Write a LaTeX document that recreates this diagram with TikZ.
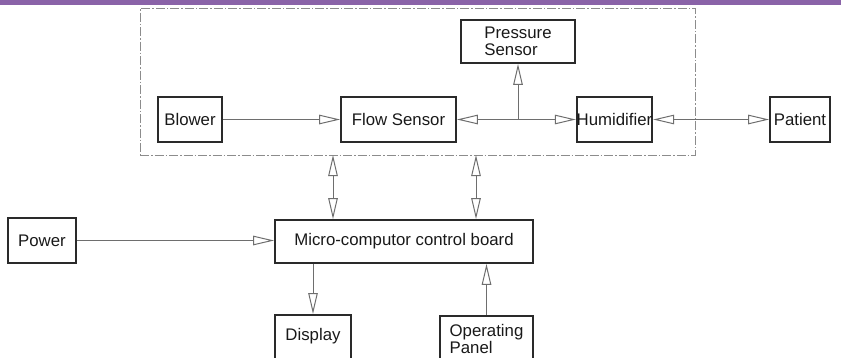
\documentclass[tikz,border=0pt]{standalone}
\usepackage{fontspec}
\setmainfont{Liberation Sans}
\usetikzlibrary{arrows.meta,positioning}
\definecolor{barpurple}{HTML}{8A63A8}
\definecolor{edgegray}{HTML}{2A2A2A}
\definecolor{wiregray}{HTML}{6E6E6E}
\definecolor{framegray}{HTML}{8C8C8C}

\begin{document}
\begin{tikzpicture}[x=1pt,y=-1pt,
  bx/.style={draw=edgegray,line width=1.7pt,inner sep=0pt,text=black!90,
    font=\fontsize{16.8}{17}\selectfont},
  ar/.style={draw=wiregray,line width=1pt,-{Triangle[open,length=21pt,width=9.5pt]}},
  ar2/.style={draw=wiregray,line width=1pt,
    {Triangle[open,length=21pt,width=9.5pt]}-{Triangle[open,length=21pt,width=9.5pt]}},
  frm/.style={draw=framegray,line width=1pt,dash pattern=on 9pt off 2pt on 1.5pt off 2pt}
]
\useasboundingbox (0,0) rectangle (841,357);
\fill[barpurple] (0,0) rectangle (841,4.5);

% breathing circuit
\node[frm,minimum width=555pt,minimum height=147pt] (sys) at (417.5,81.5) {};
\node[bx,minimum width=64pt,minimum height=45pt]  (blw) at (190,119.5) {Blower};
\node[bx,minimum width=115pt,minimum height=45pt] (flw) at (398.5,119.5) {Flow Sensor};
\node[bx,minimum width=114pt,minimum height=43pt,align=left] (prs) at (518,41.5) {Pressure\\Sensor};
\node[bx,minimum width=75pt,minimum height=45pt]  (hum) at (614.5,119.5) {Humidifier};
\node[bx,minimum width=60pt,minimum height=45pt]  (pat) at (800,119.5) {Patient};

% control part
\node[bx,minimum width=68pt,minimum height=45pt]  (pwr) at (42,240.5) {Power};
\node[bx,minimum width=258pt,minimum height=43pt] (mcb) at (404,241.5) {Micro-computor control board};
\node[bx,minimum width=76pt,anchor=north,text height=26pt,text depth=24pt] (dsp) at (313,314) {Display};
\node[bx,minimum width=93pt,minimum height=47pt,anchor=north,align=left] (opp) at (486.5,315) {Operating\\Panel};

\coordinate (jn) at (prs.south |- flw.east);
\coordinate (u1) at (333,155);
\coordinate (u2) at (476,155);

\draw[ar] (blw) -- (flw);
\draw[ar] (jn) -- (flw.east);
\draw[ar] (jn) -- (hum.west);
\draw[ar] (jn) -- (prs.south);
\draw[ar2] (hum.east) -- (pat.west);
\draw[ar2] (u1) -- (u1 |- mcb.north);
\draw[ar2] (u2) -- (u2 |- mcb.north);
\draw[ar] (pwr.east) -- (pwr.east -| mcb.west);
\draw[ar] (mcb.south -| dsp.north) -- (dsp.north);
\draw[ar] (opp.north) -- (opp.north |- mcb.south);
\end{tikzpicture}
\end{document}
